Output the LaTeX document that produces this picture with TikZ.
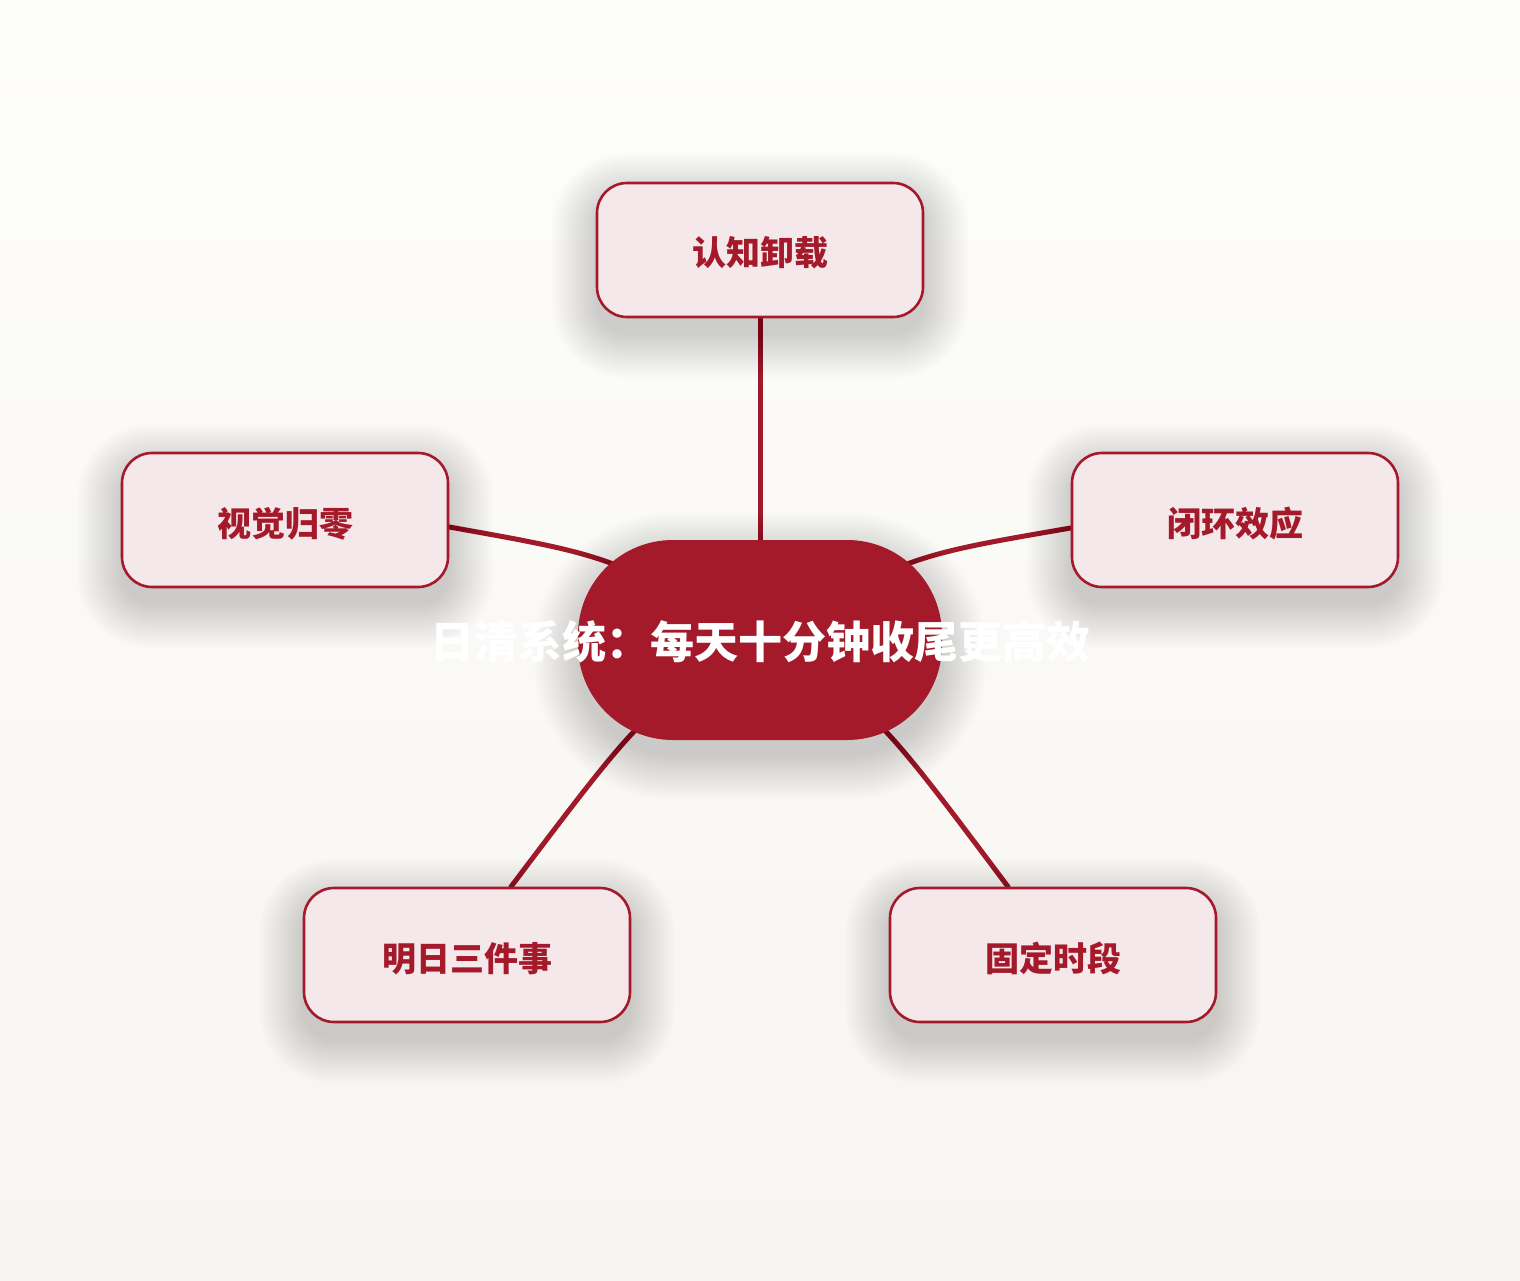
\documentclass[tikz,border=0pt]{standalone}
\usepackage{fontspec}
\newfontfamily\cjk{Noto Sans CJK SC}[BoldFont={Noto Sans CJK SC Black}]
\usetikzlibrary{calc}
\definecolor{bgtop}{HTML}{FDFDFC}
\definecolor{bgbot}{HTML}{F7F5F1}
\definecolor{mainred}{HTML}{A51A2B}
\definecolor{edgered}{HTML}{A01A2A}
\definecolor{boxfill}{HTML}{F5E8EB}
\pgfdeclarelayer{bglayer}
\pgfdeclarelayer{edgelayer}
\pgfdeclarelayer{shadowlayer}
\pgfsetlayers{bglayer,edgelayer,shadowlayer,main}
\tikzset{
  sat/.style={draw=mainred, line width=2.6pt, fill=boxfill, rounded corners=30pt,
    minimum width=326pt, minimum height=134pt, inner sep=0pt,
    text height=34pt, text depth=2pt,
    text=mainred, font=\cjk\bfseries\fontsize{34}{40}\selectfont},
  hub/.style={fill=mainred, rounded corners=95pt, minimum width=364pt,
    minimum height=200pt, inner sep=0pt},
  hubtext/.style={text=white, font=\cjk\bfseries\fontsize{44}{50}\selectfont, inner sep=0pt},
  link/.style={draw=edgered, line width=5pt, line cap=round},
  shadowpiece/.style={fill=black, fill opacity=0.0085, draw=none}
}
\newcommand{\softshadow}[2]{% node name, corner radius
  \begin{pgfonlayer}{shadowlayer}
  \foreach \s in {0,2,...,44}{
    \pgfmathsetmacro{\rr}{#2+\s}
    \fill[shadowpiece, rounded corners=\rr pt]
      ($(#1.south west)+(-\s,\s+16)$) rectangle ($(#1.north east)+(\s,-\s+16)$);
  }
  \end{pgfonlayer}}
\begin{document}
\begin{tikzpicture}[x=1pt,y=-1pt]
\begin{pgfonlayer}{bglayer}
\foreach \i in {0,...,63}{
  \pgfmathsetmacro{\pc}{\i*100/63}
  \fill[bgbot!\pc!bgtop] (0,\i*20) rectangle (1520,\i*20+21);
}
\end{pgfonlayer}
\useasboundingbox (0,0) rectangle (1520,1280);

\node[hub] (c) at (760,640) {};
\node[hubtext] (ct) at (760,642) {日清系统：每天十分钟收尾更高效};

\node[sat] (t) at (760,250) {认知卸载};
\node[sat] (l) at (285,520) {视觉归零};
\node[sat] (r) at (1235,520) {闭环效应};
\node[sat] (bl) at (467,955) {明日三件事};
\node[sat] (br) at (1053,955) {固定时段};

\softshadow{c}{95}
\softshadow{t}{30}
\softshadow{l}{30}
\softshadow{r}{30}
\softshadow{bl}{30}
\softshadow{br}{30}

\begin{pgfonlayer}{edgelayer}
\draw[link] (c.center) -- (t.south);
\draw[link] (c.center) .. controls (612,556) .. ([yshift=-7pt]l.east);
\draw[link] (c.center) .. controls (908,556) .. ([yshift=-8pt]r.west);
\draw[link] (c.center) .. controls (646,708) .. ([xshift=44pt]bl.north);
\draw[link] (c.center) .. controls (874,708) .. ([xshift=-45pt]br.north);
\end{pgfonlayer}
\end{tikzpicture}
\end{document}
